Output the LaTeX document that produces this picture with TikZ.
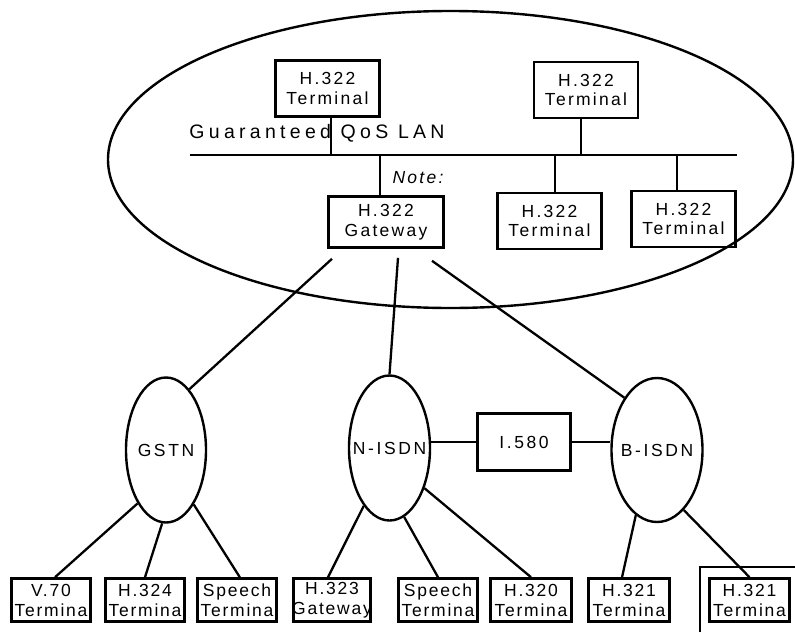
\documentclass[tikz,border=0pt]{standalone}
\usepackage{fontspec}
\setmainfont{Liberation Sans}
\usetikzlibrary{shapes.geometric,calc}
% letter-spaced faces for the different label sizes
\newfontfamily\lsTop[LetterSpace=13]{Liberation Sans}
\newfontfamily\lsLan[LetterSpace=22]{Liberation Sans}
\newfontfamily\lsEnd[LetterSpace=10]{Liberation Sans}
\newfontfamily\lsNet[LetterSpace=15]{Liberation Sans}
\newfontfamily\lsNote[LetterSpace=13]{Liberation Sans}
\newcommand\fTop{\lsTop\fontsize{17.5}{19.5}\selectfont}
\newcommand\fLan{\lsLan\fontsize{19.5}{22}\selectfont}
\newcommand\fEnd{\lsEnd\fontsize{17.5}{20}\selectfont}
\newcommand\fNet{\lsNet\fontsize{17.5}{19}\selectfont}
\newcommand\fNote{\lsNote\itshape\fontsize{17.5}{19}\selectfont}
\begin{document}
\begin{tikzpicture}[x=1pt,y=-1pt,
  link/.style={line width=2.3pt},
  box/.style={draw, line width=2.6pt, rectangle, inner xsep=-10pt, inner ysep=0pt, align=center},
  lanbox/.style={box, font=\fTop, minimum width=104pt, minimum height=56pt},
  endbox/.style={box, font=\fEnd, minimum width=#1, minimum height=43pt},
  endbox/.default=80pt,
  net/.style={draw, ellipse, line width=2.4pt, inner xsep=-20pt, inner ysep=0pt, font=\fNet}
]
\useasboundingbox (0,0) rectangle (795,632);

% LAN domain
\node[draw, ellipse, line width=2.4pt, minimum width=685pt, minimum height=297pt] (lan) at (450.5,159.5) {};

% LAN bus and attached equipment
\coordinate (busL) at (190,155);
\coordinate (busR) at (737,155);
\draw[link] (busL) -- (busR);
\node[font=\fLan] (lanlabel) at (317,133) {Guaranteed QoS LAN};

\node[lanbox] (t1) at (327.5,88.5) {H.322\\Terminal};
\node[lanbox] (t2) at (586,90) {H.322\\Terminal};
\node[lanbox, minimum width=115pt, minimum height=51pt] (gw) at (386,222) {H.322\\Gateway};
\node[lanbox] (t3) at (549.5,221) {H.322\\Terminal};
\node[lanbox] (t4) at (683.5,219) {H.322\\Terminal};
\node[font=\fNote] (note) at (418,178) {Note:};

\coordinate (d1) at (331,155);
\coordinate (d2) at (581,155);
\coordinate (d3) at (380,155);
\coordinate (d4) at (555,155);
\coordinate (d5) at (677,155);
\draw[link] (t1.south -| d1) -- (d1);
\draw[link] (t2.south -| d2) -- (d2);
\draw[link] (gw.north -| d3) -- (d3);
\draw[link] (t3.north -| d4) -- (d4);
\draw[link] (t4.north -| d5) -- (d5);

% networks
\node[net, minimum width=80pt, minimum height=145pt] (gstn) at (166,450) {GSTN};
\node[net, minimum width=81pt, minimum height=145pt] (nisdn) at (389.5,448) {N-ISDN};
\node[net, minimum width=91pt, minimum height=144pt] (bisdn) at (657,450) {B-ISDN};
\node[box, font=\fNet, minimum width=93pt, minimum height=57pt] (i580) at (524,442) {I.580};

\draw[link] (i580.west) -- (i580.west -| nisdn.east);
\draw[link] (i580.east) -- (i580.east -| bisdn.west);

% gateway access lines
\coordinate (g1) at ($(gw.south)+(-54,10)$);
\coordinate (g2) at ($(gw.south)+(12,9)$);
\coordinate (g3) at ($(gw.south)+(46,12)$);
\draw[link] (g1) -- (gstn.69);
\draw[link] (g2) -- (nisdn.north);
\draw[link] (g3) -- (bisdn.122);

% end equipment
\node[endbox=79pt] (v70) at (51,600) {V.70\\Termina};
\node[endbox=79pt] (h324) at (145,600) {H.324\\Termina};
\node[endbox=79pt] (sp1) at (237,600) {Speech\\Termina};
\node[endbox=77pt] (h323) at (332,600) {H.323\\Gateway};
\node[endbox=79pt] (sp2) at (438,600) {Speech\\Termina};
\node[endbox=81pt] (h320) at (531,600) {H.320\\Termina};
\node[endbox=81pt] (h321a) at (629,600) {H.321\\Termina};
\node[endbox=80pt] (h321b) at (749.5,600) {H.321\\Termina};

\draw[link] (gstn.242) -- (v70.80);
\draw[link] (gstn.267) -- (h324.north);
\draw[link] (gstn.297) -- (sp1.83);
\draw[link] (nisdn.246) -- (h323.100);
\draw[link] (nisdn.282) -- (sp2.north);
\draw[link] (nisdn.311) -- (h320.north);
\draw[link] (bisdn.252) -- (h321a.107);
\draw[link] (bisdn.294) -- (h321b.north);

% partial frame around the last terminal
\draw[line width=2.6pt] (700,632) -- (700,567) -- (795,567);
\end{tikzpicture}
\end{document}
